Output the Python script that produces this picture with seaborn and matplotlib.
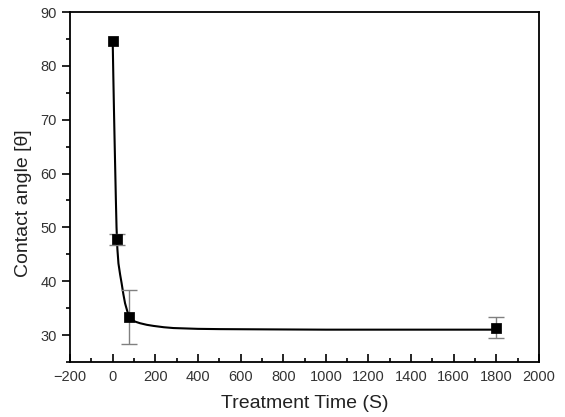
"""Contact angle vs treatment time, Origin-style scatter with fitted curve."""
import numpy as np
import pandas as pd
import seaborn as sns
import matplotlib.pyplot as plt
from matplotlib.ticker import MultipleLocator

# measured points (first point drawn without error bar)
time_s = [0, 19, 78, 1800]
angle = [84.7, 47.8, 33.3, 31.4]
angle_err = [np.nan, 1.0, 5.0, 2.0]

# fitted curve
fit_time = [0, 3, 6, 9, 12, 15, 18, 22, 27, 35, 42, 50, 58, 68, 78, 90, 105,
            128, 160, 191, 240, 285, 400, 504, 738, 1000, 1400, 1800]
fit_angle = [84.7, 78.0, 71.8, 66.0, 60.5, 55.0, 50.0, 46.0, 43.3, 41.2, 39.6,
             37.6, 35.9, 34.5, 33.4, 32.9, 32.5, 32.2, 31.9, 31.7, 31.45, 31.3,
             31.15, 31.1, 31.05, 31.0, 31.0, 31.0]

pts = pd.DataFrame({'t': time_s, 'a': angle, 'e': angle_err})
fit = pd.DataFrame({'t': fit_time, 'a': fit_angle})
err = pts.dropna()

sns.set_theme(style='white')
plt.rcParams['font.family'] = ['Liberation Sans', 'DejaVu Sans']

fig = plt.figure(figsize=(5.65, 4.17), dpi=100)
ax = fig.add_axes([0.124, 0.132, 0.830, 0.839])

sns.lineplot(data=fit, x='t', y='a', color='black', lw=1.5, ax=ax,
             estimator=None, sort=False, zorder=2)
ax.errorbar(err['t'], err['a'], yerr=err['e'], fmt='none', ecolor='#808080',
            elinewidth=1.0, capsize=5.5, capthick=1.0, zorder=3)
sns.scatterplot(data=pts, x='t', y='a', marker='s', s=45, color='black',
                edgecolor='black', ax=ax, zorder=4)

ax.set_xlim(-200, 2000)
ax.set_ylim(25, 90)
ax.xaxis.set_major_locator(MultipleLocator(200))
ax.xaxis.set_minor_locator(MultipleLocator(100))
ax.yaxis.set_major_locator(MultipleLocator(10))
ax.yaxis.set_minor_locator(MultipleLocator(5))
ax.tick_params(axis='x', which='both', direction='in', top=False,
               bottom=True, labelsize=10.5, colors='black', labelcolor='#333333')
ax.tick_params(axis='x', which='major', length=6, width=1.2, pad=6)
ax.tick_params(axis='x', which='minor', length=3, width=1.2)
ax.tick_params(axis='y', which='both', direction='out', left=True,
               right=False, labelsize=10.5, colors='black', labelcolor='#333333')
ax.tick_params(axis='y', which='major', length=6, width=1.2)
ax.tick_params(axis='y', which='minor', length=3, width=1.2)
for sp in ax.spines.values():
    sp.set_color('black')
    sp.set_linewidth(1.3)

ax.set_xlabel('Treatment Time (S)', fontsize=14, color='#222222', labelpad=8)
ax.set_ylabel('Contact angle [θ]', fontsize=14, color='#222222')
ax.yaxis.set_label_coords(-0.082, 0.455)

fig.savefig('out.png', dpi=100)
plt.close(fig)
